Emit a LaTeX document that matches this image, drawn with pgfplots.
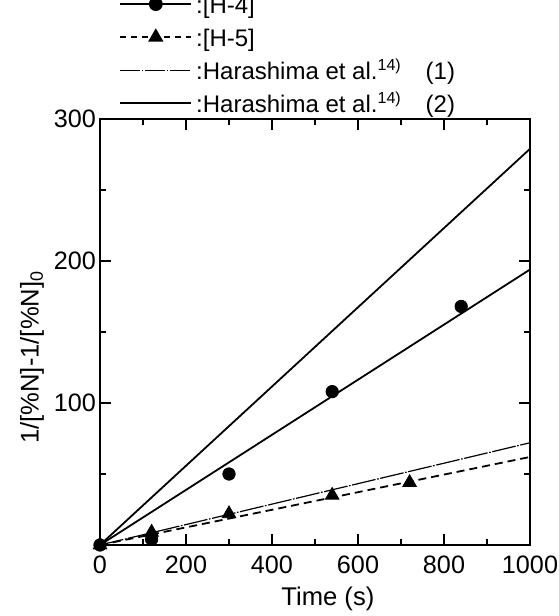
\documentclass[border=0pt]{standalone}
\usepackage{fontspec}
\setmainfont{Liberation Sans}
\usepackage{pgfplots}
\pgfplotsset{compat=1.18}
\newcommand{\lstrut}{\rule[-2.5pt]{0pt}{13.5pt}}
\begin{document}
\begin{tikzpicture}
\begin{axis}[
  at={(0,0)}, anchor=south west,
  scale only axis,
  width=215pt, height=213pt,
  xmin=0, xmax=1000, ymin=0, ymax=300,
  xtick={0,200,400,600,800,1000},
  ytick={0,100,200,300},
  yticklabels={,100,200,300},
  minor x tick num=1,
  minor y tick num=1,
  tick align=inside,
  major tick length=5.5pt,
  minor tick length=3pt,
  tick style={black, line width=0.6pt},
  axis line style={line width=0.9pt},
  /pgf/number format/assume math mode=true,
  /pgf/number format/1000 sep={},
  tick label style={font=\fontsize{12.6}{15}\selectfont},
  xticklabel style={anchor=center, yshift=-10pt},
  yticklabel style={xshift=1.5pt},
  xlabel={Time (s)},
  ylabel={1/[\%N]-1/[\%N]\textsubscript{0}},
  label style={font=\fontsize{12.8}{15}\selectfont},
  xlabel style={at={(axis description cs:0.53,-0.127)}, anchor=center},
  ylabel style={at={(axis description cs:-0.158,0.441)}, anchor=center, rotate=0},
  clip=false,
  legend cell align=left,
  legend style={draw=none, fill=none, font=\fontsize{12}{14}\selectfont,
    at={(axis description cs:0,1)}, anchor=south west, xshift=9.5pt, yshift=-0.5pt,
    row sep=0pt, inner sep=0pt},
  legend image code/.code={\draw[#1, mark repeat=2, mark phase=2] plot coordinates {(0pt,0pt) (17.75pt,0pt) (35.5pt,0pt)};},
]
\addlegendimage{black, line width=0.9pt, mark=*, mark size=3pt, mark options={solid}}
\addlegendentry{\lstrut:[H-4]}
\addlegendimage{black, line width=0.9pt, dash pattern=on 3pt off 2.5pt, mark=triangle*, mark size=3.5pt, mark options={solid}}
\addlegendentry{\lstrut:[H-5]}
\addlegendimage{black, line width=0.5pt, dash pattern=on 10pt off 0.8pt on 0.8pt off 0.8pt}
\addlegendentry{\lstrut:Harashima et al.\textsuperscript{14)}\quad(1)}
\addlegendimage{black, line width=0.9pt}
\addlegendentry{\lstrut:Harashima et al.\textsuperscript{14)}\quad(2)}

% fitted lines
\addplot[black, line width=0.9pt, forget plot] coordinates {(0,0) (1000,194)};
\addplot[black, line width=0.9pt, dash pattern=on 4pt off 2.5pt, forget plot] coordinates {(0,0) (1000,62)};
\addplot[black, line width=0.6pt, dash pattern=on 12pt off 0.8pt on 0.8pt off 0.8pt, forget plot] coordinates {(0,0) (1000,72)};
\addplot[black, line width=0.9pt, forget plot] coordinates {(0,0) (1000,279)};

% data points
\addplot[only marks, mark=*, mark size=3.1pt, black, forget plot] coordinates {
  (0,0) (120,4) (300,50) (540,108) (840,168)
};
\addplot[only marks, mark=triangle*, mark size=3.9pt, black, forget plot] coordinates {
  (0,0) (120,9) (300,22) (540,35) (720,44)
};
\end{axis}
\pgfresetboundingbox
\path (-50pt,-35.5pt) rectangle (229pt,272.5pt);
\end{tikzpicture}
\end{document}
